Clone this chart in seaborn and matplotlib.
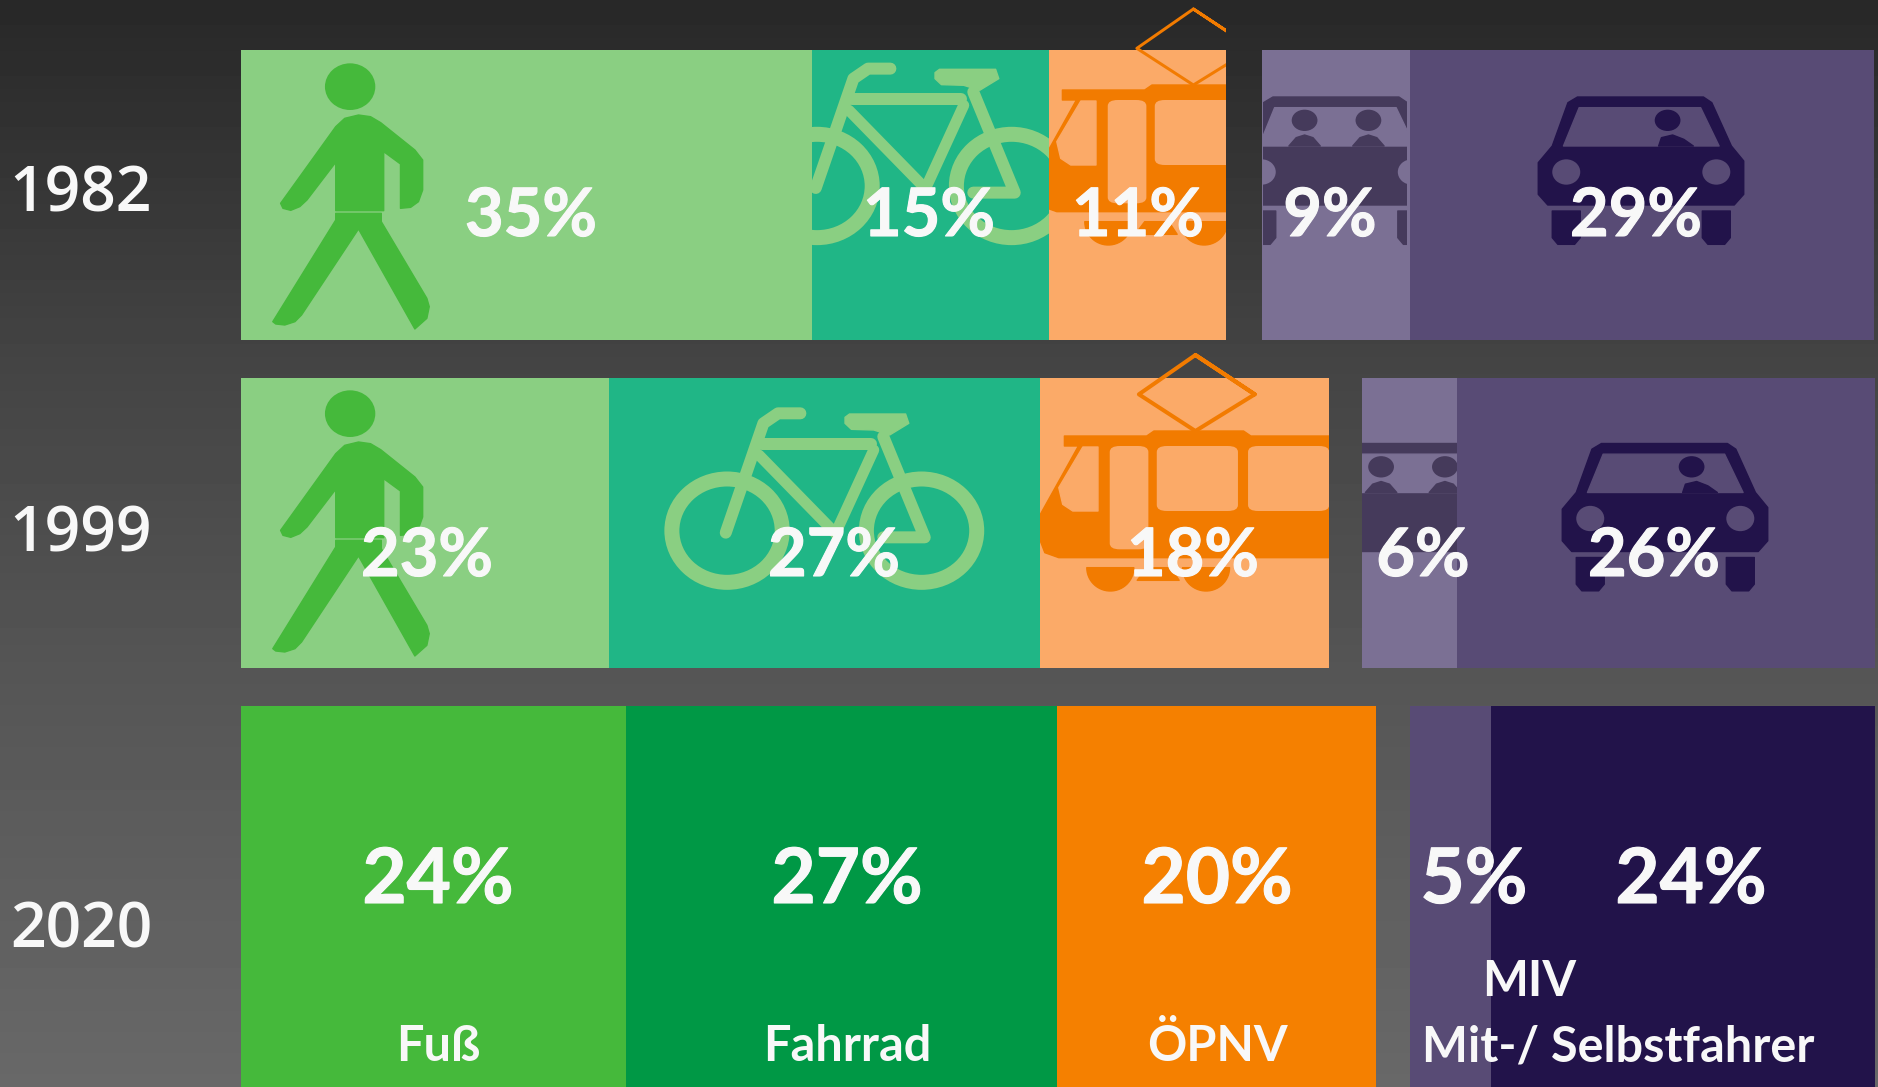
import numpy as np
import matplotlib
matplotlib.use("Agg")
import matplotlib.pyplot as plt
import matplotlib.patheffects as pe
import seaborn as sns
from matplotlib.patches import Ellipse, FancyBboxPatch, PathPatch, Polygon, Rectangle
from matplotlib.path import Path
from matplotlib.transforms import Affine2D

# 1. Values
years = ["1982", "1999", "2020"]
modes = ["Fuß", "Fahrrad", "ÖPNV", "MIV Mitfahrer", "MIV Selbstfahrer"]
labels_1982 = ["35%", "15%", "11%", "9%", "29%"]
labels_1999 = ["23%", "27%", "18%", "6%", "26%"]
labels_2020 = ["24%", "27%", "20%", "5%", "24%"]
# bar lengths as they are drawn, they differ a little from the printed numbers
shares_1982 = [35.69, 14.81, 11.06, 9.25, 29.0]
shares_1999 = [23.0, 26.94, 18.06, 5.94, 26.12]
shares_2020 = [24.06, 26.94, 19.94, 5.06, 24.0]

# 2. Layout and colours
W, H = 1878, 1087
PX_PER_SHARE = 16
LEFT_PX = 241
gaps = [2.25, 2.06, 2.1]
row_tops = [50, 378, 706]
row_bottoms = [340, 668, 1087]
pale = ["#8ACF82", "#20B686", "#FBAA68", "#7B7094", "#584B75"]
full = ["#45B93B", "#009845", "#F58000", "#584B75", "#22134A"]
row_colors = [pale, pale, full]
label_x = [[531, 929, 1138, 1330, 1636],
           [427, 834, 1193, 1423, 1654],
           [438, 847, 1217, 1474, 1691]]
label_base = [236, 576, 903]
label_size = [48, 48, 55]
year_base = [211, 552, 947]

sns.set_theme(style="white")
plt.rcParams["font.family"] = ["Lato", "DejaVu Sans"]
plt.rcParams["axes.facecolor"] = "none"

fig = plt.figure(figsize=(W / 100, H / 100), dpi=100)

# 3. Dark gradient behind everything
bg = fig.add_axes([0, 0, 1, 1], zorder=0)
shade = np.interp(np.linspace(0, 1, 256), [0, 0.33, 0.634, 1], [0x28, 0x44, 0x56, 0x68]).reshape(-1, 1) / 255
bg.imshow(shade, cmap="gray", vmin=0, vmax=1, aspect="auto")
bg.axis("off")

# 4. One axes per row, bars go through seaborn
rows = [shares_1982, shares_1999, shares_2020]
edges = []
for i, shares in enumerate(rows):
    top, bottom = row_tops[i], row_bottoms[i]
    ax = fig.add_axes([0, 1 - bottom / H, 1, (bottom - top) / H], zorder=1)
    left = 0
    row_edges = []
    for j, value in enumerate(shares):
        if j == 3:
            left += gaps[i]
        sns.barplot(x=[value], y=[years[i]], left=[left], color=row_colors[i][j],
                    saturation=1, width=1, orient="y", linewidth=0, ax=ax)
        row_edges.append((LEFT_PX + left * PX_PER_SHARE,
                          LEFT_PX + (left + value) * PX_PER_SHARE))
        left += value
    edges.append(row_edges)
    ax.set_xlim(-LEFT_PX / PX_PER_SHARE, (W - LEFT_PX) / PX_PER_SHARE)
    ax.set_ylim(0.5, -0.5)
    ax.axis("off")

# 5. Overlay in pixels for the pictograms and the text
over = fig.add_axes([0, 0, 1, 1], zorder=2)
over.set_xlim(0, W)
over.set_ylim(H, 0)
over.axis("off")


def put(patch, tf, clip):
    patch.set_transform(tf + over.transData)
    over.add_patch(patch)
    patch.set_clip_path(Rectangle((clip[0], 0), clip[1] - clip[0], H, transform=over.transData))


def shape(points, color, tf, clip):
    put(Polygon(points, closed=True, facecolor=color, edgecolor=color, lw=1, joinstyle="round"), tf, clip)


def stroke(points, color, width, tf, clip):
    put(PathPatch(Path(points), facecolor="none", edgecolor=color, lw=width * 0.72,
                  capstyle="round", joinstyle="round"), tf, clip)


def walker(dy, clip):
    tf = Affine2D().scale(1 / 1.668, 1 / 3).translate(0, dy)
    c = full[0]
    put(Ellipse((584, 260), 84, 140, facecolor=c, edgecolor="none"), tf, clip)
    shape([(598, 345), (618, 350), (635, 368), (692, 450), (705, 480), (705, 570), (698, 605), (685, 622),
           (668, 625), (668, 492), (640, 455), (640, 632), (560, 632), (560, 487), (512, 600), (500, 620),
           (485, 631), (472, 625), (468, 610), (560, 380), (575, 355)], c, tf, clip)
    shape([(560, 640), (636, 640), (636, 665), (712, 895), (716, 920), (712, 955), (692, 987), (598, 687),
           (503, 945), (492, 965), (475, 975), (460, 972), (455, 965), (560, 660)], c, tf, clip)


def bike(dx, dy, clip):
    tf = Affine2D().scale(1 / 1.568, 1 / 3).translate(dx, 340 + dy)
    c = pale[0]
    for cx in (1140, 1445):
        put(Ellipse((cx, 572), 173, 310, facecolor="none", edgecolor=c, lw=15 * 0.72), tf, clip)
    stroke([(1255, 220), (1220, 220), (1197, 250), (1138, 578)], c, 12, tf, clip)
    stroke([(1195, 312), (1365, 312)], c, 12, tf, clip)
    stroke([(1190, 345), (1310, 580)], c, 11, tf, clip)
    stroke([(1370, 330), (1310, 580)], c, 11, tf, clip)
    stroke([(1385, 290), (1450, 592), (1385, 592)], c, 12, tf, clip)
    shape([(1332, 222), (1420, 222), (1425, 250), (1395, 285), (1370, 270), (1335, 268), (1325, 250), (1325, 232)],
          c, tf, clip)


def tram(dx, dy, lw, clip):
    tf = Affine2D().scale(1 / 1.786, 1 / 3).translate(1000 + dx, 340 + dy)
    c = "#F27B00"
    hole = pale[2]
    shape([(115, 285), (262, 285), (275, 270), (435, 270), (448, 285), (760, 285), (760, 650), (105, 650),
           (80, 635), (72, 600), (72, 520), (140, 315), (115, 315)], c, tf, clip)
    stroke([(349, 42), (455, 160), (349, 270), (248, 160), (349, 42), (455, 160)], c, lw, tf, clip)
    shape([(148, 318), (175, 318), (175, 510), (130, 510), (112, 490), (105, 440)], hole, tf, clip)
    for x0, x1, y1 in [(196, 265, 625), (280, 425, 510), (443, 588, 510), (606, 751, 510)]:
        box = FancyBboxPatch((x0 + 18, 315 + 18), x1 - x0 - 36, y1 - 315 - 36,
                             boxstyle="round,pad=18,rounding_size=18", facecolor=hole, edgecolor="none")
        put(box, tf, clip)
    for cx in (197, 368):
        arc = np.linspace(0, np.pi, 30)
        shape(np.column_stack([cx + 42 * np.cos(arc), 680 + 70 * np.sin(arc)]), c, tf, clip)
    shape([(262, 680), (305, 680), (320, 718), (245, 718)], c, tf, clip)


def car(cx, top, c, hole, both_seats, clip):
    tf = Affine2D().scale(1 / 1.786, 1 / 3).translate(cx - 1188.5 / 1.786, top - 308 / 3)
    shape([(1075, 308), (1300, 308), (1315, 325), (1350, 455), (1372, 500), (1372, 600), (1355, 632),
           (1022, 632), (1005, 600), (1005, 505), (1030, 455), (1058, 325)], c, tf, clip)
    shape([(1078, 340), (1295, 340), (1328, 455), (1050, 455)], hole, tf, clip)
    if both_seats:
        for off in (1188.5 - 57, 1188.5 + 57):
            put(Ellipse((off, 378), 46, 64, facecolor=c, edgecolor="none"), tf, clip)
            shape([(off - 28, 455), (off - 15, 430), (off, 422), (off + 15, 430), (off + 28, 455)], c, tf, clip)
    else:
        off = 1236
        put(Ellipse((off, 378), 46, 64, facecolor=c, edgecolor="none"), tf, clip)
        shape([(off - 16, 455), (off - 11, 430), (off + 9, 422), (off + 29, 435), (off + 46, 455)], c, tf, clip)
    for hx in (1055, 1323):
        put(Ellipse((hx, 533), 50, 76, facecolor=hole, edgecolor="none"), tf, clip)
    for wx in (1030, 1298):
        shape([(wx, 650), (wx + 50, 650), (wx + 50, 730), (wx + 40, 750), (wx + 10, 750), (wx, 730)], c, tf, clip)


r82, r99 = edges[0], edges[1]
walker(0, r82[0])
walker(327, r99[0])
bike(90, -344.7, r82[1])
bike(0, 0, r99[1])
tram(-2, -345, 3, r82[2])
tram(0, 1, 4, r99[2])
car(1336.5, 97, "#453A5B", pale[3], True, (r82[3][0] + 1, r82[3][1] - 3))
car(1641, 97, full[4], pale[4], False, r82[4])
car(1413, 443.5, "#453A5B", pale[3], True, r99[3])
car(1665, 443.5, full[4], pale[4], False, r99[4])

# 6. Text
white = "#F8F8F8"
thicker = [pe.withStroke(linewidth=0.8, foreground=white)]
all_labels = [labels_1982, labels_1999, labels_2020]
for i, row in enumerate(all_labels):
    for j, text in enumerate(row):
        over.text(label_x[i][j], label_base[i], text, color=white, fontsize=label_size[i],
                  fontweight="bold", ha="center", va="baseline", zorder=10, path_effects=thicker)
    over.text(81, year_base[i], years[i], color=white, fontsize=45, family="Open Sans", fontweight="semibold",
              ha="center", va="baseline", zorder=10)

legend_x = [438, 847, 1217]
for x, name in zip(legend_x, modes[:3]):
    over.text(x, 1061, name, color=white, fontsize=35, fontweight="bold",
              ha="center", va="baseline", zorder=10)
over.text(1529, 996, "MIV", color=white, fontsize=35, fontweight="bold", ha="center", va="baseline", zorder=10)
over.text(1618, 1061, "Mit-/ Selbstfahrer", color=white, fontsize=35, fontweight="bold",
          ha="center", va="baseline", zorder=10)

fig.savefig("out.png", dpi=100)
plt.close(fig)
